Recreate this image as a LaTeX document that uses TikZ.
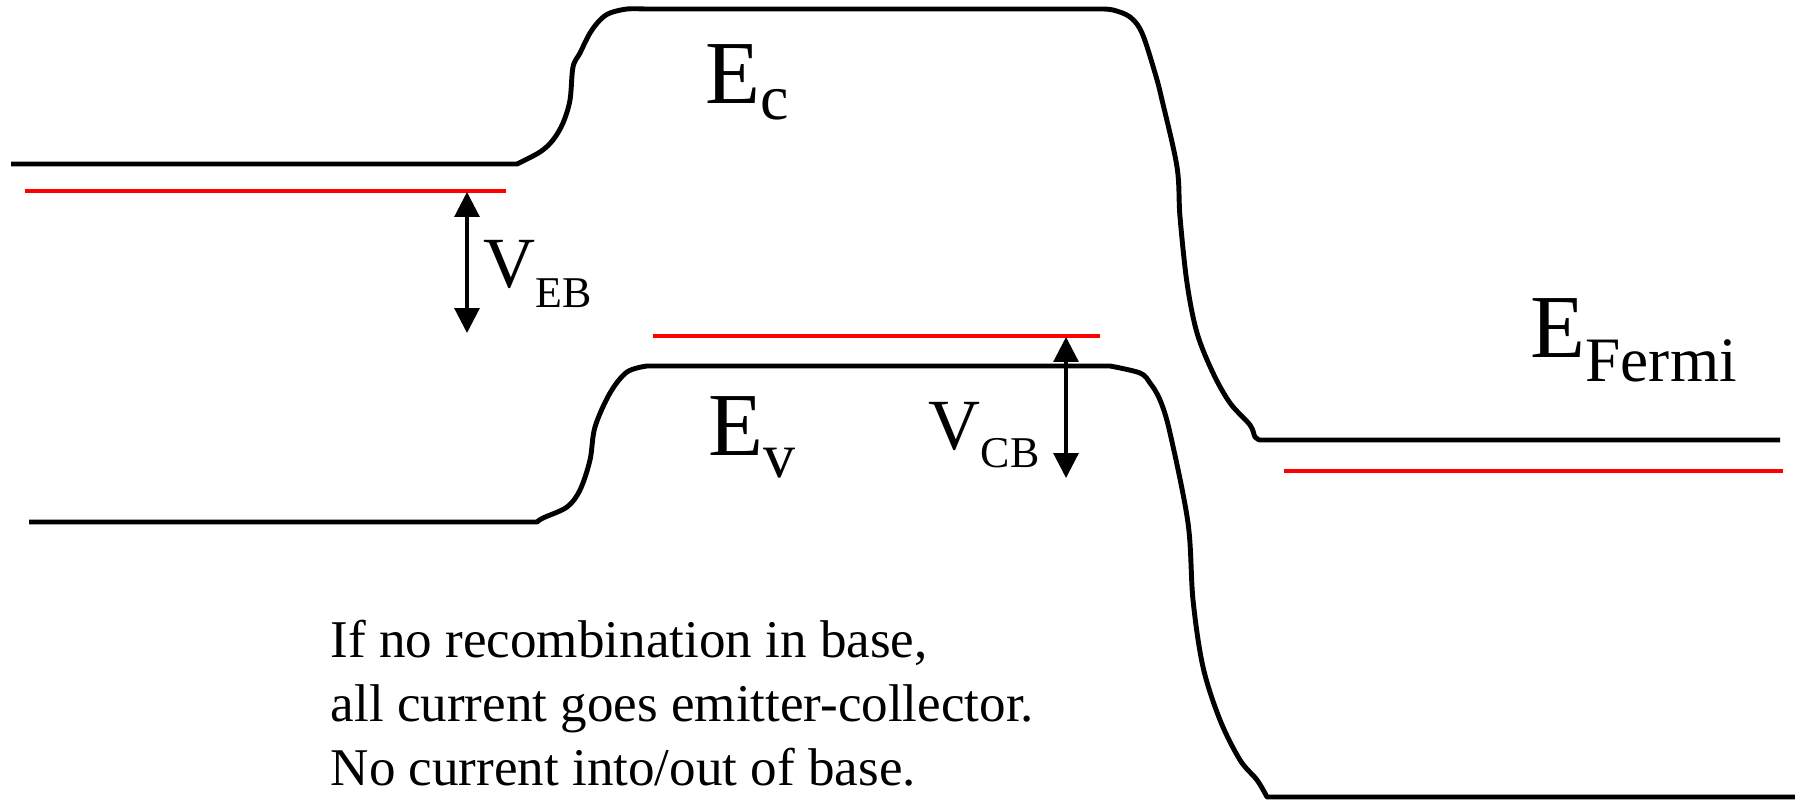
\documentclass[tikz,border=0pt]{standalone}
\usepackage{fontspec}
\setmainfont{Liberation Serif}
\usetikzlibrary{arrows.meta}
\tikzset{
  band/.style  = {line width=1.4pt, line join=round},
  fermi/.style = {line width=1.1pt, draw=red},
  volt/.style  = {line width=0.9pt, {Triangle[width=7.1pt,length=7.1pt]}-{Triangle[width=7.1pt,length=7.1pt]}},
  big/.style   = {inner sep=0, anchor=base west, font=\fontsize{25.6}{30}\selectfont},
  vlab/.style  = {inner sep=0, anchor=base west, font=\fontsize{20.5}{24}\selectfont},
  note/.style  = {inner sep=0, anchor=base west, font=\fontsize{15.1}{18}\selectfont}
}
\newcommand{\bandsub}[3]{\raisebox{-#1}{\fontsize{#2}{#2}\selectfont #3}}

\begin{document}
\begin{tikzpicture}[x=0.1mm, y=-0.1mm]
  \useasboundingbox (0,0) rectangle (1795,799);

  % conduction band
  \draw[band] (11,164) -- (517,164)
    -- plot[smooth, tension=.55] coordinates {(517,164) (540,152) (553,140) (563,123) (570,100) (573,67) (580,53) (590,33) (600,20) (610,13) (627,9) (645,9)}
    -- (1100,9)
    -- plot[smooth, tension=.55] coordinates {(1100,9) (1113,10) (1130,17) (1142,33) (1155,73) (1162,100) (1177,167) (1180,217) (1187,283) (1197,333) (1213,373) (1230,403) (1250,425) (1255,437) (1260,440)}
    -- (1780,440);

  % valence band
  \draw[band] (29,522) -- (537,522)
    -- plot[smooth, tension=.55] coordinates {(537,522) (543,518) (567,507) (580,490) (590,460) (595,427) (610,393) (627,372) (647,366)}
    -- (1110,366)
    -- plot[smooth, tension=.55] coordinates {(1110,366) (1140,373) (1150,383) (1160,400) (1170,433) (1188,523) (1193,600) (1203,667) (1220,720) (1240,760) (1257,780) (1267,797)}
    -- (1795,797);

  % Fermi levels
  \draw[fermi] (25,191) -- (506,191);
  \draw[fermi] (653,336) -- (1100,336);
  \draw[fermi] (1284,471) -- (1783,471);

  % voltages
  \coordinate (ebT) at (467,192); \coordinate (ebB) at (467,333);
  \coordinate (cbT) at (1066,337); \coordinate (cbB) at (1066,478);
  \draw[volt] (ebT) -- (ebB);
  \draw[volt] (cbT) -- (cbB);

  \node[vlab] (veb) at (483,287) {V\bandsub{5.7pt}{12.5}{EB}};
  \node[vlab] (vcb) at (928,449) {V\bandsub{5.4pt}{12.5}{CB}};

  \node[big] (ec) at (705,103)  {E\bandsub{4.6pt}{18.2}{c}};
  \node[big] (ev) at (708,455)  {E\bandsub{6.5pt}{18.2}{v}};
  \node[big] (ef) at (1530,357) {E\bandsub{7.1pt}{18}{Fermi}};

  \node[note] (n1) at (330,657) {If no recombination in base,};
  \node[note] (n2) at (330,721) {all current goes emitter-collector.};
  \node[note] (n3) at (330,785) {No current into/out of base.};

\end{tikzpicture}
\end{document}
